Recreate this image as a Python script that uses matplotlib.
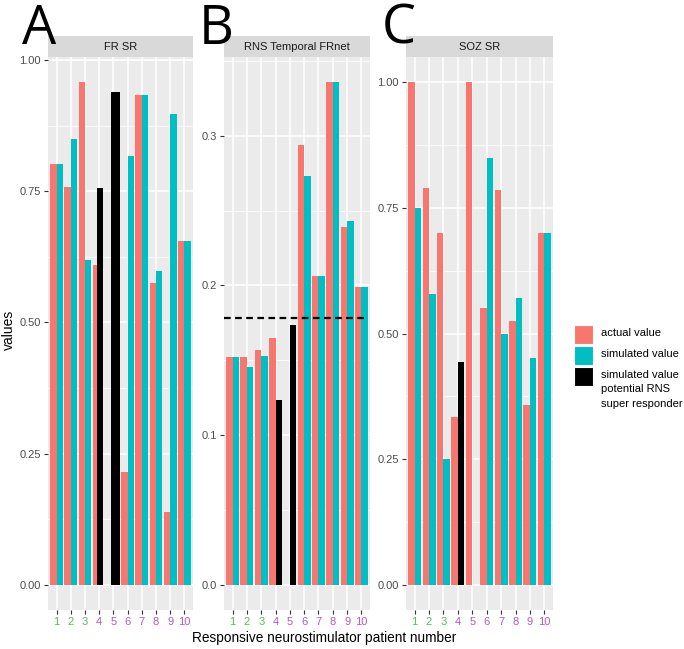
import numpy as np
import matplotlib
matplotlib.use("Agg")
import matplotlib.pyplot as plt
from matplotlib.patches import Rectangle

nan = np.nan
patients = [str(i) for i in range(1, 11)]
tick_colors = ["#5DB55D"] * 3 + ["#B35AB5"] * 7

# Panel A: FR SR
frsr_actual = [0.802, 0.759, 0.959, 0.609, nan, 0.215, 0.933, 0.576, 0.138, 0.655]
frsr_sim = [0.802, 0.849, 0.620, nan, nan, 0.817, 0.933, 0.598, 0.897, 0.655]
frsr_black = [nan, nan, nan, 0.757, 0.939, nan, nan, nan, nan, nan]

# Panel B: RNS Temporal FRnet
rns_actual = [0.1524, 0.1524, 0.1571, 0.1647, nan, 0.2935, 0.2062, 0.3358, 0.2391, 0.1987]
rns_sim = [0.1524, 0.1458, 0.1531, nan, nan, 0.2731, 0.2062, 0.3358, 0.2429, 0.1987]
rns_black = [nan, nan, nan, 0.1236, 0.1736, nan, nan, nan, nan, nan]
rns_threshold = 0.1785

# Panel C: SOZ SR
soz_actual = [1.0, 0.790, 0.700, 0.334, 1.0, 0.550, 0.786, 0.524, 0.357, 0.700]
soz_sim = [0.75, 0.579, 0.25, nan, nan, 0.850, 0.500, 0.571, 0.452, 0.700]
soz_black = [nan, nan, nan, 0.444, nan, nan, nan, nan, nan, nan]

titles = ["FR SR", "RNS Temporal FRnet", "SOZ SR"]
letters = ["A", "B", "C"]
legend_labels = ["actual value", "simulated value", "simulated value\npotential RNS\nsuper responder"]

RED = "#F8766D"
TEAL = "#00BFC4"
W, H = 684, 649
fig = plt.figure(figsize=(W / 100, H / 100), dpi=100)
plt.rcParams["font.family"] = ["Liberation Sans", "DejaVu Sans"]

panels = [
    dict(act=frsr_actual, sim=frsr_sim, blk=frsr_black, x0=48, x1=193,
         ylim=(-0.048, 1.006), yt=[0, 0.25, 0.5, 0.75, 1.0], fmt="{:.2f}",
         bshift={4: (0.05, 0.47), 5: (0.15, 0.63)}),
    dict(act=rns_actual, sim=rns_sim, blk=rns_black, x0=224, x1=370,
         ylim=(-0.0168, 0.3526), yt=[0, 0.1, 0.2, 0.3], fmt="{:.1f}",
         bshift={}),
    dict(act=soz_actual, sim=soz_sim, blk=soz_black, x0=406, x1=553,
         ylim=(-0.05, 1.05), yt=[0, 0.25, 0.5, 0.75, 1.0], fmt="{:.2f}",
         bshift={}),
]
top, bot = 57, 610
strip_top = 36
xs = np.arange(1, 11)
bw = 0.45

for i, p in enumerate(panels):
    ax = fig.add_axes([p["x0"] / W, (H - bot) / H, (p["x1"] - p["x0"]) / W, (bot - top) / H])
    ax.set_facecolor("#EBEBEB")
    for s in ax.spines.values():
        s.set_visible(False)
    ax.set_xlim(0.4, 10.6)
    ax.set_ylim(*p["ylim"])
    yt = p["yt"]
    minors = [(a + b) / 2 for a, b in zip(yt[:-1], yt[1:])]
    if yt[-1] + (yt[1] - yt[0]) / 2 < p["ylim"][1]:
        minors.append(yt[-1] + (yt[1] - yt[0]) / 2)
    ax.set_yticks(yt)
    ax.set_yticklabels([p["fmt"].format(v) for v in yt])
    ax.set_yticks(minors, minor=True)
    ax.set_xticks(xs)
    ax.set_xticklabels(patients)
    for lbl, c in zip(ax.get_xticklabels(), tick_colors):
        lbl.set_color(c)
    ax.grid(True, which="major", color="white", linewidth=1.1)
    ax.grid(True, which="minor", axis="y", color="white", linewidth=0.55)
    ax.set_axisbelow(True)
    ax.tick_params(axis="both", which="major", length=3, color="#333333", labelsize=8, pad=2)
    ax.tick_params(axis="y", labelcolor="#4D4D4D")
    ax.tick_params(axis="both", which="minor", length=0)
    ax.bar(xs - bw / 2, p["act"], width=bw, color=RED, zorder=2)
    ax.bar(xs + bw / 2, p["sim"], width=bw, color=TEAL, zorder=2)
    for k, v in enumerate(p["blk"]):
        if np.isnan(v):
            continue
        pat = k + 1
        sh, w = p["bshift"].get(pat, (bw / 2, bw))
        ax.bar(pat + sh, v, width=w, color="black", zorder=3)
    if i == 1:
        ax.axhline(rns_threshold, xmin=0.0, xmax=0.97, color="black",
                   linestyle=(0, (3, 2)), linewidth=1.6, zorder=4)
    # strip
    fig.add_artist(Rectangle((p["x0"] / W, (H - top) / H), (p["x1"] - p["x0"]) / W,
                             (top - strip_top) / H, transform=fig.transFigure,
                             facecolor="#D9D9D9", edgecolor="none"))
    fig.text((p["x0"] + p["x1"]) / 2 / W, (H - (top + strip_top) / 2) / H, titles[i],
             ha="center", va="center", fontsize=8, color="#1A1A1A")

# panel letters
for lx, let in zip([22, 199, 382], letters):
    fig.text(lx / W, (H - 44) / H, let, fontsize=39, family=["Open Sans", "DejaVu Sans"],
             ha="left", va="baseline", color="black")

fig.text(324 / W, (H - 638) / H, "Responsive neurostimulator patient number",
         ha="center", va="center", fontsize=9.8, color="black")
fig.text(9 / W, (H - 330) / H, "values", rotation=90, ha="center", va="center",
         fontsize=10, color="black")

# legend
for j, (lab, col) in enumerate(zip(legend_labels, [RED, TEAL, "black"])):
    y0 = 325 + j * 21
    fig.add_artist(Rectangle((574 / W, (H - y0 - 19) / H), 19 / W, 19 / H,
                             transform=fig.transFigure, facecolor=col, edgecolor="white",
                             linewidth=0.8))
    fig.text(601 / W, (H - y0 - 3) / H, lab, ha="left", va="top", fontsize=8,
             color="black", linespacing=1.55)

fig.savefig("out.png", dpi=100)
